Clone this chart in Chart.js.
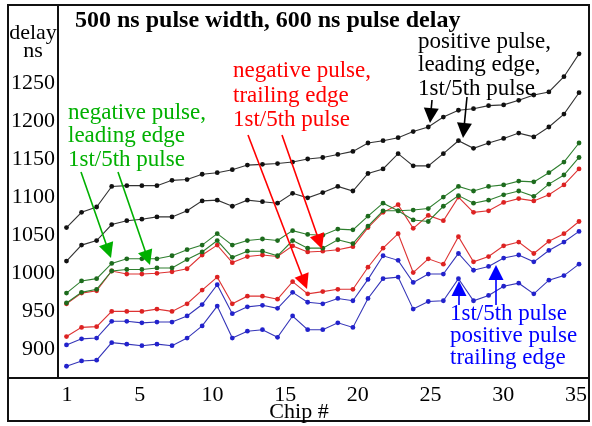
<!DOCTYPE html>
<html lang="en">
<head>
<meta charset="UTF-8">
<title>Chip delay</title>
<style>
  html, body { margin: 0; padding: 0; background: #fff; }
</style>
</head>
<body>
<canvas id="myChart" width="592" height="426"></canvas>

<script src="https://cdn.jsdelivr.net/npm/chart.js"></script>
<script>
// chip numbers along the x axis
const chips = [1, 2, 3, 4, 5, 6, 7, 8, 9, 10, 11, 12, 13, 14, 15, 16, 17, 18,
  19, 20, 21, 22, 23, 24, 25, 26, 27, 28, 29, 30, 31, 32, 33, 34, 35];

// delays in ns
const posLeadA = [1060, 1080, 1087, 1114, 1115, 1115, 1115, 1122, 1123, 1130, 1132, 1136, 1142, 1143, 1144, 1146, 1150, 1152,
  1156, 1160, 1171, 1174, 1178, 1186, 1192, 1205, 1214, 1216, 1220, 1221, 1227, 1234, 1238, 1258, 1288];
const posLeadB = [1016, 1037, 1043, 1064, 1069, 1071, 1074, 1074, 1082, 1095, 1096, 1088, 1096, 1094, 1092, 1105, 1099, 1106,
  1114, 1108, 1131, 1137, 1157, 1141, 1141, 1157, 1174, 1164, 1171, 1177, 1184, 1179, 1192, 1209, 1237];
const negLeadA = [974, 990, 993, 1013, 1019, 1019, 1019, 1023, 1031, 1037, 1052, 1037, 1043, 1045, 1043, 1056, 1051, 1050,
  1058, 1057, 1075, 1092, 1082, 1083, 1085, 1100, 1114, 1108, 1114, 1116, 1121, 1120, 1132, 1146, 1171];
const negLeadB = [961, 975, 979, 1003, 1005, 1005, 1007, 1007, 1018, 1028, 1043, 1021, 1029, 1029, 1023, 1043, 1033, 1033,
  1044, 1039, 1062, 1082, 1082, 1070, 1068, 1088, 1102, 1092, 1096, 1103, 1108, 1101, 1117, 1129, 1152];
const negTrailA = [960, 974, 977, 1003, 999, 999, 1000, 1002, 1006, 1024, 1037, 1014, 1022, 1024, 1022, 1036, 1028, 1029,
  1031, 1035, 1060, 1080, 1090, 1059, 1076, 1069, 1100, 1080, 1082, 1093, 1098, 1095, 1103, 1116, 1137];
const negTrailB = [917, 929, 930, 950, 950, 950, 953, 950, 960, 978, 995, 960, 970, 970, 966, 989, 973, 976,
  979, 979, 1008, 1033, 1052, 1001, 1019, 1012, 1048, 1015, 1022, 1036, 1041, 1026, 1042, 1052, 1068];
const posTrailA = [906, 914, 915, 937, 937, 935, 936, 936, 944, 959, 985, 947, 956, 958, 954, 975, 962, 960,
  967, 964, 992, 1023, 1017, 988, 999, 999, 1026, 1004, 1009, 1020, 1024, 1015, 1030, 1041, 1055];
const posTrailB = [878, 885, 886, 909, 907, 905, 907, 905, 915, 931, 957, 915, 924, 926, 916, 944, 926, 926,
  935, 929, 967, 993, 995, 953, 963, 964, 993, 964, 971, 983, 987, 973, 991, 997, 1012];

const yTicks = [900, 950, 1000, 1050, 1100, 1150, 1200, 1250];
const xTickLabels = ['1', '5', '10', '15', '20', '25', '30', '35'];

const SERIF = '"Liberation Serif", "DejaVu Serif", serif';

function series(values, line, dot) {
  return {
    data: chips.map((c, i) => ({ x: c, y: values[i] })),
    borderColor: line,
    backgroundColor: dot,
    pointBackgroundColor: dot,
    pointBorderColor: dot,
    borderWidth: 1.1,
    pointRadius: 2.4,
    pointBorderWidth: 0,
    tension: 0,
    fill: false
  };
}

function arrow(ctx, x1, y1, x2, y2, color, len, half) {
  const a = Math.atan2(y2 - y1, x2 - x1);
  ctx.save();
  ctx.strokeStyle = color;
  ctx.fillStyle = color;
  ctx.lineWidth = 1.6;
  ctx.beginPath();
  ctx.moveTo(x1, y1);
  ctx.lineTo(x2 - Math.cos(a) * len * 0.8, y2 - Math.sin(a) * len * 0.8);
  ctx.stroke();
  ctx.beginPath();
  ctx.moveTo(x2, y2);
  ctx.lineTo(x2 - Math.cos(a) * len - Math.sin(a) * half, y2 - Math.sin(a) * len + Math.cos(a) * half);
  ctx.lineTo(x2 - Math.cos(a) * len + Math.sin(a) * half, y2 - Math.sin(a) * len - Math.cos(a) * half);
  ctx.closePath();
  ctx.fill();
  ctx.restore();
}

function lines(ctx, text, x, y, step, color) {
  ctx.fillStyle = color;
  text.forEach((t, i) => ctx.fillText(t, x, y + i * step));
}

// no edge padding for half tick labels: keep the plot box fixed
function noEdgePad(scale) {
  scale.paddingTop = 0;
  scale.paddingBottom = 0;
  scale.paddingLeft = 0;
  scale.paddingRight = 0;
}

const decorations = {
  id: 'decorations',
  afterDraw: (chart) => {
    const ctx = chart.ctx;
    const { left, bottom } = chart.chartArea;
    ctx.save();

    // frame
    ctx.strokeStyle = '#111';
    ctx.lineWidth = 2;
    ctx.strokeRect(8, 5, 581, 416);
    ctx.beginPath();
    ctx.moveTo(left, 5);
    ctx.lineTo(left, bottom);
    ctx.moveTo(8, bottom);
    ctx.lineTo(589, bottom);
    ctx.stroke();

    ctx.textBaseline = 'alphabetic';
    ctx.textAlign = 'left';
    ctx.font = 'bold 24px ' + SERIF;
    ctx.fillStyle = '#000';
    ctx.fillText('500 ns pulse width, 600 ns pulse delay', 75, 27);

    ctx.font = '22px ' + SERIF;
    ctx.textAlign = 'center';
    ctx.fillText('delay', 33, 39);
    ctx.fillText('ns', 33, 57);
    ctx.fillText('Chip #', 299, 418);

    ctx.textAlign = 'left';
    ctx.font = '23px ' + SERIF;
    lines(ctx, ['negative pulse,', 'leading edge', '1st/5th pulse'], 68, 119, 23.3, '#00b000');
    lines(ctx, ['negative pulse,', 'trailing edge', '1st/5th pulse'], 233, 77, 24.5, '#ff0000');
    lines(ctx, ['positive pulse,', 'leading edge,', '1st/5th pulse'], 418, 48, 23.4, '#000');
    lines(ctx, ['1st/5th pulse', 'positive pulse', 'trailing edge'], 450, 320, 22, '#0000ff');

    arrow(ctx, 81, 172, 111, 258, '#00b000', 15, 7.5);
    arrow(ctx, 118, 172, 150, 265, '#00b000', 15, 7.5);
    arrow(ctx, 248, 135, 307, 289, '#ff0000', 15, 7.5);
    arrow(ctx, 282, 135, 322, 249, '#ff0000', 15, 7.5);
    arrow(ctx, 432, 100, 430, 123, '#000', 15, 7.5);
    arrow(ctx, 467, 97, 463, 138, '#000', 15, 7.5);
    arrow(ctx, 459, 305, 459, 281, '#0000ff', 15, 7.5);
    arrow(ctx, 496, 305, 496, 265, '#0000ff', 15, 7.5);

    ctx.restore();
  }
};

const ctx = document.getElementById('myChart');

const myChart = new Chart(ctx, {
  type: 'line',
  data: {
    datasets: [
      series(posLeadA, '#333', '#111'),
      series(posLeadB, '#333', '#111'),
      series(negLeadA, '#2f7f2f', '#1d6b1d'),
      series(negLeadB, '#2f7f2f', '#1d6b1d'),
      series(negTrailA, '#dd3333', '#dd2222'),
      series(negTrailB, '#dd3333', '#dd2222'),
      series(posTrailA, '#3434b8', '#2222cc'),
      series(posTrailB, '#3434b8', '#2222cc')
    ]
  },
  options: {
    responsive: false,
    animation: false,
    layout: { padding: { left: 8, top: 5, right: 3, bottom: 5 } },
    plugins: { legend: { display: false }, tooltip: { enabled: false } },
    scales: {
      x: {
        type: 'linear',
        display: false,
        min: 0.437,
        max: 35.595
      },
      xl: {
        type: 'linear',
        position: 'bottom',
        min: -0.1235,
        max: 7.1647,
        grid: { display: false, drawTicks: false },
        border: { display: false },
        afterBuildTicks: (scale) => {
          scale.ticks = xTickLabels.map((t, i) => ({ value: i }));
        },
        afterFit: (scale) => { scale.height = 43; noEdgePad(scale); },
        ticks: {
          padding: 4,
          maxRotation: 0,
          autoSkip: false,
          color: '#000',
          font: { family: SERIF, size: 22 },
          callback: (v) => xTickLabels[v]
        }
      },
      y: {
        type: 'linear',
        min: 862.6,
        max: 1352.1,
        grid: { display: false, drawTicks: false },
        border: { display: false },
        afterBuildTicks: (scale) => {
          scale.ticks = yTicks.map(v => ({ value: v }));
        },
        afterFit: (scale) => { scale.width = 50; noEdgePad(scale); },
        ticks: {
          padding: 3,
          color: '#000',
          font: { family: SERIF, size: 22 },
          callback: (v) => String(v)
        }
      }
    }
  },
  plugins: [decorations]
});
</script>
</body>
</html>
